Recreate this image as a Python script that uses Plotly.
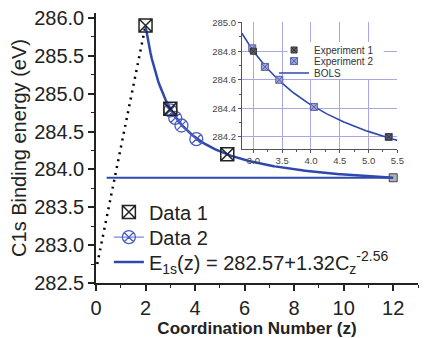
import numpy as np
import plotly.graph_objects as go

# Measured C1s binding energies (eV) vs coordination number z
data1_z = [2.0, 3.0, 5.3]
data1_e = [285.9, 284.8, 284.2]
data2_z = [3.0, 3.2, 3.45, 4.05]
data2_e = [284.78, 284.68, 284.58, 284.40]

# Inset: experimental points
exp1_z = [3.0, 5.35]
exp1_e = [284.80, 284.20]
exp2_z = [2.98, 3.2, 3.45, 4.05, 5.35]
exp2_e = [284.82, 284.69, 284.60, 284.41, 284.20]

# Bulk reference level and the dotted guide towards low z
bulk_z = [0.43, 12.0]
bulk_e = [283.89, 283.89]
guide_z = [0.05, 2.0]
guide_e = [282.75, 285.9]

# BOLS model: E1s(z) = 282.57 + 1.32 * Cz^-2.56, Cz = 2 / (1 + exp((12 - z) / (8 z)))
E_BULK_SHIFT = 282.57
E_COEF = 1.32
M_EXP = 2.56


def bols(z):
    z = np.asarray(z, dtype=float)
    cz = 2.0 / (1.0 + np.exp((12.0 - z) / (8.0 * z)))
    return E_BULK_SHIFT + E_COEF * cz ** (-M_EXP)


z_main = np.linspace(2.0, 12.0, 200)
z_inset = np.linspace(2.8, 5.5, 120)

BLUE = "#2e48ad"
FONT = "Liberation Sans, Arial, sans-serif"

fig = go.Figure()

# Main panel
fig.add_trace(go.Scatter(x=guide_z, y=guide_e, mode="lines",
                         line=dict(color="black", width=2.5, dash="2px,5px"),
                         showlegend=False, hoverinfo="skip"))
fig.add_trace(go.Scatter(x=bulk_z, y=bulk_e, mode="lines",
                         line=dict(color=BLUE, width=2),
                         showlegend=False))
fig.add_trace(go.Scatter(x=[bulk_z[-1]], y=[bulk_e[-1]], mode="markers",
                         marker=dict(symbol="square", size=8, color="#b0b0b8",
                                     line=dict(color="#444", width=1)),
                         showlegend=False))
fig.add_trace(go.Scatter(x=z_main, y=bols(z_main), mode="lines",
                         line=dict(color=BLUE, width=2.5),
                         name="E<sub>1s</sub>(z) = 282.57+1.32C<sub>z</sub><sup>-2.56</sup>",
                         legend="legend3"))
fig.add_trace(go.Scatter(x=data2_z, y=data2_e, mode="lines+markers",
                         line=dict(color="#5a6cc8", width=1),
                         marker=dict(symbol="circle-x-open", size=13, color="#4a5cc0",
                                     line=dict(width=1.3)),
                         name="Data 2", legend="legend2"))
fig.add_trace(go.Scatter(x=data1_z, y=data1_e, mode="markers",
                         marker=dict(symbol="square-x-open", size=13, color="#222",
                                     line=dict(width=1.5)),
                         name="Data 1", legend="legend"))

# Inset panel
fig.add_trace(go.Scatter(x=z_inset, y=bols(z_inset), mode="lines",
                         line=dict(color=BLUE, width=1.6), name="BOLS",
                         xaxis="x2", yaxis="y2", legend="legend6"))
fig.add_trace(go.Scatter(x=exp2_z, y=exp2_e, mode="markers",
                         marker=dict(symbol="square-x", size=7, color="#9ea4d8",
                                     line=dict(color="#5a62a8", width=1)),
                         name="Experiment 2", xaxis="x2", yaxis="y2",
                         legend="legend5"))
fig.add_trace(go.Scatter(x=exp1_z, y=exp1_e, mode="markers",
                         marker=dict(symbol="square-x", size=6, color="#606070",
                                     line=dict(color="#333", width=1)),
                         name="Experiment 1", xaxis="x2", yaxis="y2",
                         legend="legend4"))

main_leg = dict(xanchor="left", yanchor="middle", bgcolor="rgba(0,0,0,0)",
                font=dict(size=20, color="#222"), itemwidth=30)
inset_leg = dict(xanchor="left", yanchor="middle", bgcolor="rgba(0,0,0,0)",
                 font=dict(size=10, color="#333"), itemwidth=30)

fig.update_layout(
    width=425, height=338,
    margin=dict(l=96, r=0, t=13, b=55),
    paper_bgcolor="white", plot_bgcolor="white",
    font=dict(family=FONT, color="#222"),
    xaxis=dict(range=[0, 13], domain=[0, 1], showgrid=False, zeroline=False,
               showline=True, linecolor="#222", linewidth=1.5,
               ticks="outside", ticklen=6, tickwidth=1.5, tickcolor="#222",
               tickvals=[0, 2, 4, 6, 8, 10, 12],
               minor=dict(ticks="outside", ticklen=3, tickwidth=1.3, dtick=1, tick0=0,
                          tickcolor="#222"),
               tickfont=dict(size=20),
               title=dict(text="<b>Coordination Number (z)</b>", font=dict(size=17), standoff=4)),
    yaxis=dict(range=[282.5, 286.066], domain=[0, 1], showgrid=False, zeroline=False,
               showline=True, linecolor="#222", linewidth=1.5,
               ticks="outside", ticklen=6, tickwidth=1.5, tickcolor="#222",
               dtick=0.5, tick0=282.5, tickformat=".1f",
               minor=dict(ticks="outside", ticklen=3, tickwidth=1.3, dtick=0.25,
                          tick0=282.5, tickcolor="#222"),
               tickfont=dict(size=20),
               title=dict(text="C1s Binding energy (eV)", font=dict(size=20), standoff=2)),
    xaxis2=dict(range=[2.8, 5.5], domain=[0.453, 0.936], anchor="y2",
                showgrid=True, gridcolor="#a8a8e6", gridwidth=1, zeroline=False,
                showline=True, linecolor="#555", linewidth=1,
                ticks="outside", ticklen=3, tickcolor="#555",
                tickvals=[3.0, 3.5, 4.0, 4.5, 5.0, 5.5], tickformat=".1f",
                minor=dict(ticks="outside", ticklen=2, dtick=0.25, tick0=2.75,
                           tickcolor="#555"),
                tickfont=dict(size=9.5, color="#444")),
    yaxis2=dict(range=[284.115, 285.005], domain=[0.496, 0.967], anchor="x2",
                showgrid=True, gridcolor="#a8a8e6", gridwidth=1, zeroline=False,
                showline=True, linecolor="#555", linewidth=1,
                ticks="outside", ticklen=3, tickcolor="#555",
                tickvals=[284.2, 284.4, 284.6, 284.8, 285.0], tickformat=".1f",
                minor=dict(ticks="outside", ticklen=2, dtick=0.1, tick0=284.1,
                           tickcolor="#555"),
                tickfont=dict(size=9.5, color="#444")),
    legend=dict(x=0.04, y=0.263, **main_leg),
    legend2=dict(x=0.04, y=0.170, **main_leg),
    legend3=dict(x=0.04, y=0.078, **main_leg),
    legend4=dict(x=0.553, y=0.863, **inset_leg),
    legend5=dict(x=0.553, y=0.822, **inset_leg),
    legend6=dict(x=0.553, y=0.778, **inset_leg),
    # white backing behind the inset legend so grid lines stop at its text
    shapes=[dict(type="rect", xref="paper", yref="paper", layer="above",
                 x0=(292 - 96) / 329, x1=(390 - 96) / 329,
                 y0=(283 - 79) / 270, y1=(283 - 42) / 270,
                 fillcolor="white", line=dict(width=0))],
)

fig.write_html("out.html")
